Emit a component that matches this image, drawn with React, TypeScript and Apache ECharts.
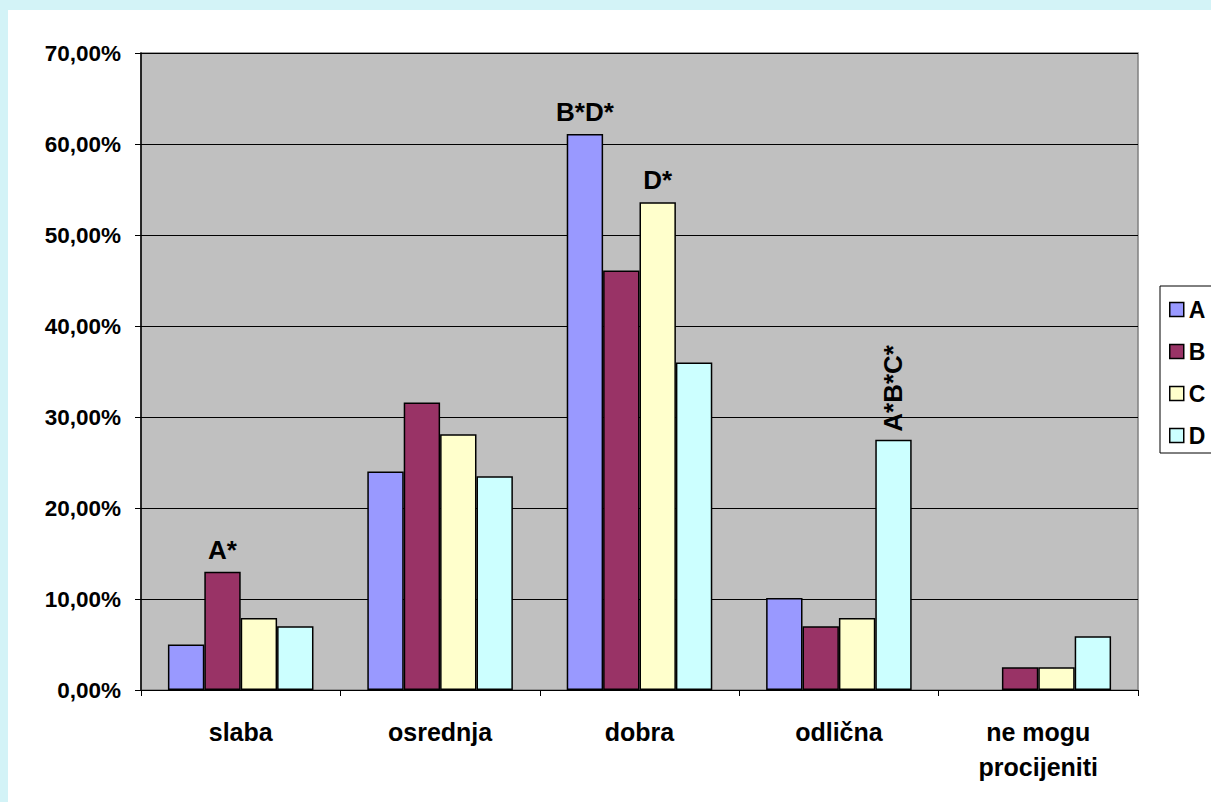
import React, { useEffect, useRef } from "react";
import * as echarts from "echarts";

const categories = ["slaba", "osrednja", "dobra", "odlična", "ne mogu\nprocijeniti"];
const seriesNames = ["A", "B", "C", "D"];
const seriesColors = ["#9999FF", "#993366", "#FFFFCC", "#CCFFFF"];
const valuesA = [5.0, 24.0, 61.1, 10.1, 0];
const valuesB = [13.0, 31.6, 46.1, 7.0, 2.5];
const valuesC = [7.9, 28.1, 53.6, 7.9, 2.5];
const valuesD = [7.0, 23.5, 36.0, 27.5, 5.9];
const allValues = [valuesA, valuesB, valuesC, valuesD];
// significance labels: [seriesIndex, categoryIndex, text, rotated]
const sigLabels: [number, number, string, boolean][] = [
  [1, 0, "A*", false],
  [0, 2, "B*D*", false],
  [2, 2, "D*", false],
  [3, 3, "A*B*C*", true],
];

const FONT = "Liberation Sans, Arial, sans-serif";

export default function App() {
  const ref = useRef<HTMLDivElement>(null);
  useEffect(() => {
    if (!ref.current) return;
    const chart = echarts.init(ref.current, undefined, { renderer: "svg" });
    const series = allValues.map((vals, si) => ({
      name: seriesNames[si],
      type: "bar",
      barGap: "0%",
      barCategoryGap: "27%",
      itemStyle: { color: seriesColors[si], borderColor: "#000", borderWidth: 1.5 },
      data: vals.map((v, ci) => {
        const lab = sigLabels.find((l) => l[0] === si && l[1] === ci);
        if (v === 0) return { value: v, itemStyle: { borderWidth: 0, opacity: 0 } };
        if (!lab) return v;
        return {
          value: v,
          label: lab[3]
            ? {
                show: true,
                formatter: lab[2],
                position: "top",
                rotate: 90,
                align: "left",
                verticalAlign: "middle",
                distance: 8,
                fontSize: 26,
                fontWeight: "bold",
                fontFamily: FONT,
                color: "#000",
              }
            : {
                show: true,
                formatter: lab[2],
                position: "top",
                distance: 9,
                fontSize: 26,
                fontWeight: "bold",
                fontFamily: FONT,
                color: "#000",
              },
        };
      }),
    }));
    chart.setOption({
      animation: false,
      backgroundColor: "#FFFFFF",
      grid: {
        left: 133,
        top: 43,
        width: 997,
        height: 637,
        show: true,
        backgroundColor: "#C0C0C0",
        borderColor: "#808080",
        borderWidth: 1.5,
      },
      legend: {
        orient: "vertical",
        left: 1152,
        top: 276,
        padding: [12, 40, 6, 9],
        itemGap: 19,
        itemWidth: 14,
        itemHeight: 14,
        borderColor: "#000",
        borderWidth: 1,
        icon: "rect",
        itemStyle: { borderColor: "#000", borderWidth: 1.5 },
        textStyle: { fontSize: 23, lineHeight: 23, fontWeight: "bold", fontFamily: FONT, color: "#000", padding: [0, 0, 0, 0] },
        data: seriesNames,
      },
      xAxis: {
        type: "category",
        data: categories,
        axisLine: { lineStyle: { color: "#000", width: 1 } },
        axisTick: { show: true, length: 6, lineStyle: { color: "#000" } },
        axisLabel: {
          fontSize: 25,
          lineHeight: 35,
          fontWeight: "bold",
          fontFamily: FONT,
          color: "#000",
          margin: 24,
          interval: 0,
        },
      },
      yAxis: {
        type: "value",
        min: 0,
        max: 70,
        interval: 10,
        axisLine: { show: true, lineStyle: { color: "#000", width: 1.5 } },
        axisTick: { show: true, length: 6, lineStyle: { color: "#000" } },
        splitLine: { show: true, lineStyle: { color: "#000", width: 1 } },
        axisLabel: {
          fontSize: 22.5,
          fontWeight: "bold",
          fontFamily: FONT,
          color: "#000",
          margin: 20,
          formatter: (v: number) => v.toFixed(2).replace(".", ",") + "%",
        },
      },
      series,
    });
    return () => chart.dispose();
  }, []);
  return (
    <div style={{ position: "fixed", left: 0, top: 0, width: 1211, height: 802, background: "#D3F3F7", overflow: "hidden" }}>
      <div ref={ref} style={{ position: "absolute", left: 8, top: 10, width: 1203, height: 792 }} />
    </div>
  );
}
